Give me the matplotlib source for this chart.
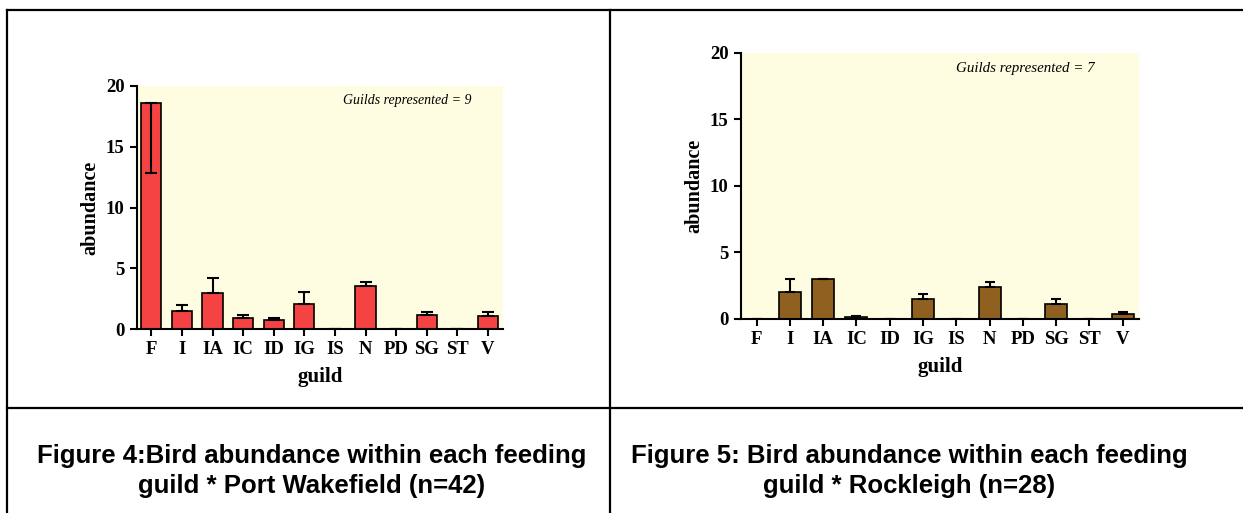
import matplotlib
matplotlib.use("Agg")
import matplotlib.pyplot as plt
from matplotlib.lines import Line2D

guilds = ["F", "I", "IA", "IC", "ID", "IG", "IS", "N", "PD", "SG", "ST", "V"]

# Port Wakefield (n=42)
pw_mean = [18.6, 1.5, 3.0, 0.9, 0.7, 2.05, 0.0, 3.5, 0.0, 1.15, 0.0, 1.1]
pw_err_up = [0.0, 0.5, 1.22, 0.27, 0.2, 1.03, 0.0, 0.4, 0.0, 0.22, 0.0, 0.27]
pw_err_down = [5.75, 0, 0, 0, 0, 0, 0, 0, 0, 0, 0, 0]

# Rockleigh (n=28)
rl_mean = [0.0, 2.0, 3.0, 0.14, 0.0, 1.45, 0.0, 2.35, 0.0, 1.1, 0.0, 0.35]
rl_err_up = [0.0, 1.0, 0.0, 0.07, 0.0, 0.38, 0.0, 0.43, 0.0, 0.35, 0.0, 0.17]
rl_err_down = [0] * 12

serif = "Liberation Serif"
W, H = 1243, 513

fig = plt.figure(figsize=(W / 100, H / 100), dpi=100)


def panel(rect, means, lo, hi, color, n_guilds, note_x, note_size, capsize):
    ax = fig.add_axes(rect)
    ax.set_facecolor("#fefde2")
    x = range(len(guilds))
    ax.bar(x, means, width=0.66, color=color, edgecolor="black", linewidth=1.2,
           yerr=[lo, hi], error_kw=dict(ecolor="black", elinewidth=1.5,
                                        capsize=capsize, capthick=1.5))
    ax.set_xlim(-0.47, len(guilds) - 0.51)
    ax.set_ylim(0, 20)
    ax.set_yticks([0, 5, 10, 15, 20])
    ax.set_xticks(list(x))
    ax.set_xticklabels(guilds)
    for s in ("top", "right"):
        ax.spines[s].set_visible(False)
    for s in ("left", "bottom"):
        ax.spines[s].set_linewidth(1.5)
    ax.tick_params(direction="out", length=5, width=1.5, labelsize=13.5, pad=4)
    for lab in ax.get_xticklabels() + ax.get_yticklabels():
        lab.set_fontfamily(serif)
        lab.set_fontweight("bold")
    ax.set_xlabel("guild", fontfamily=serif, fontweight="bold", fontsize=15, labelpad=6)
    ax.set_ylabel("abundance", fontfamily=serif, fontweight="bold", fontsize=14.5, labelpad=4)
    ax.text(note_x, 0.94, f"Guilds represented = {n_guilds}", transform=ax.transAxes,
            ha="right", va="center", fontfamily=serif, fontstyle="italic",
            fontsize=note_size)
    return ax


panel([137 / W, 1 - 329 / H, 366 / W, 243 / H], pw_mean, pw_err_down, pw_err_up,
      "#f54242", 9, 0.915, 10, 4.5)
panel([741 / W, 1 - 318.7 / H, 398 / W, 266 / H], rl_mean, rl_err_down, rl_err_up,
      "#8f6020", 7, 0.889, 10.8, 3.5)

# table grid around the two figures and their captions
for xs, ys in [((7, W), (10, 10)), ((7, 7), (10, H)), ((610, 610), (10, H)),
               ((7, W), (407.5, 407.5))]:
    fig.add_artist(Line2D([v / W for v in xs], [1 - v / H for v in ys],
                          color="black", lw=1.6))

cap_kw = dict(ha="center", va="center", fontfamily="Liberation Sans",
              fontweight="bold", fontsize=18.5, linespacing=1.32)
fig.text(312 / W, 1 - 471 / H,
         "Figure 4:Bird abundance within each feeding\nguild * Port Wakefield (n=42)", **cap_kw)
fig.text(909 / W, 1 - 471 / H,
         "Figure 5: Bird abundance within each feeding\nguild * Rockleigh (n=28)", **cap_kw)

fig.savefig("out.png", dpi=100)
